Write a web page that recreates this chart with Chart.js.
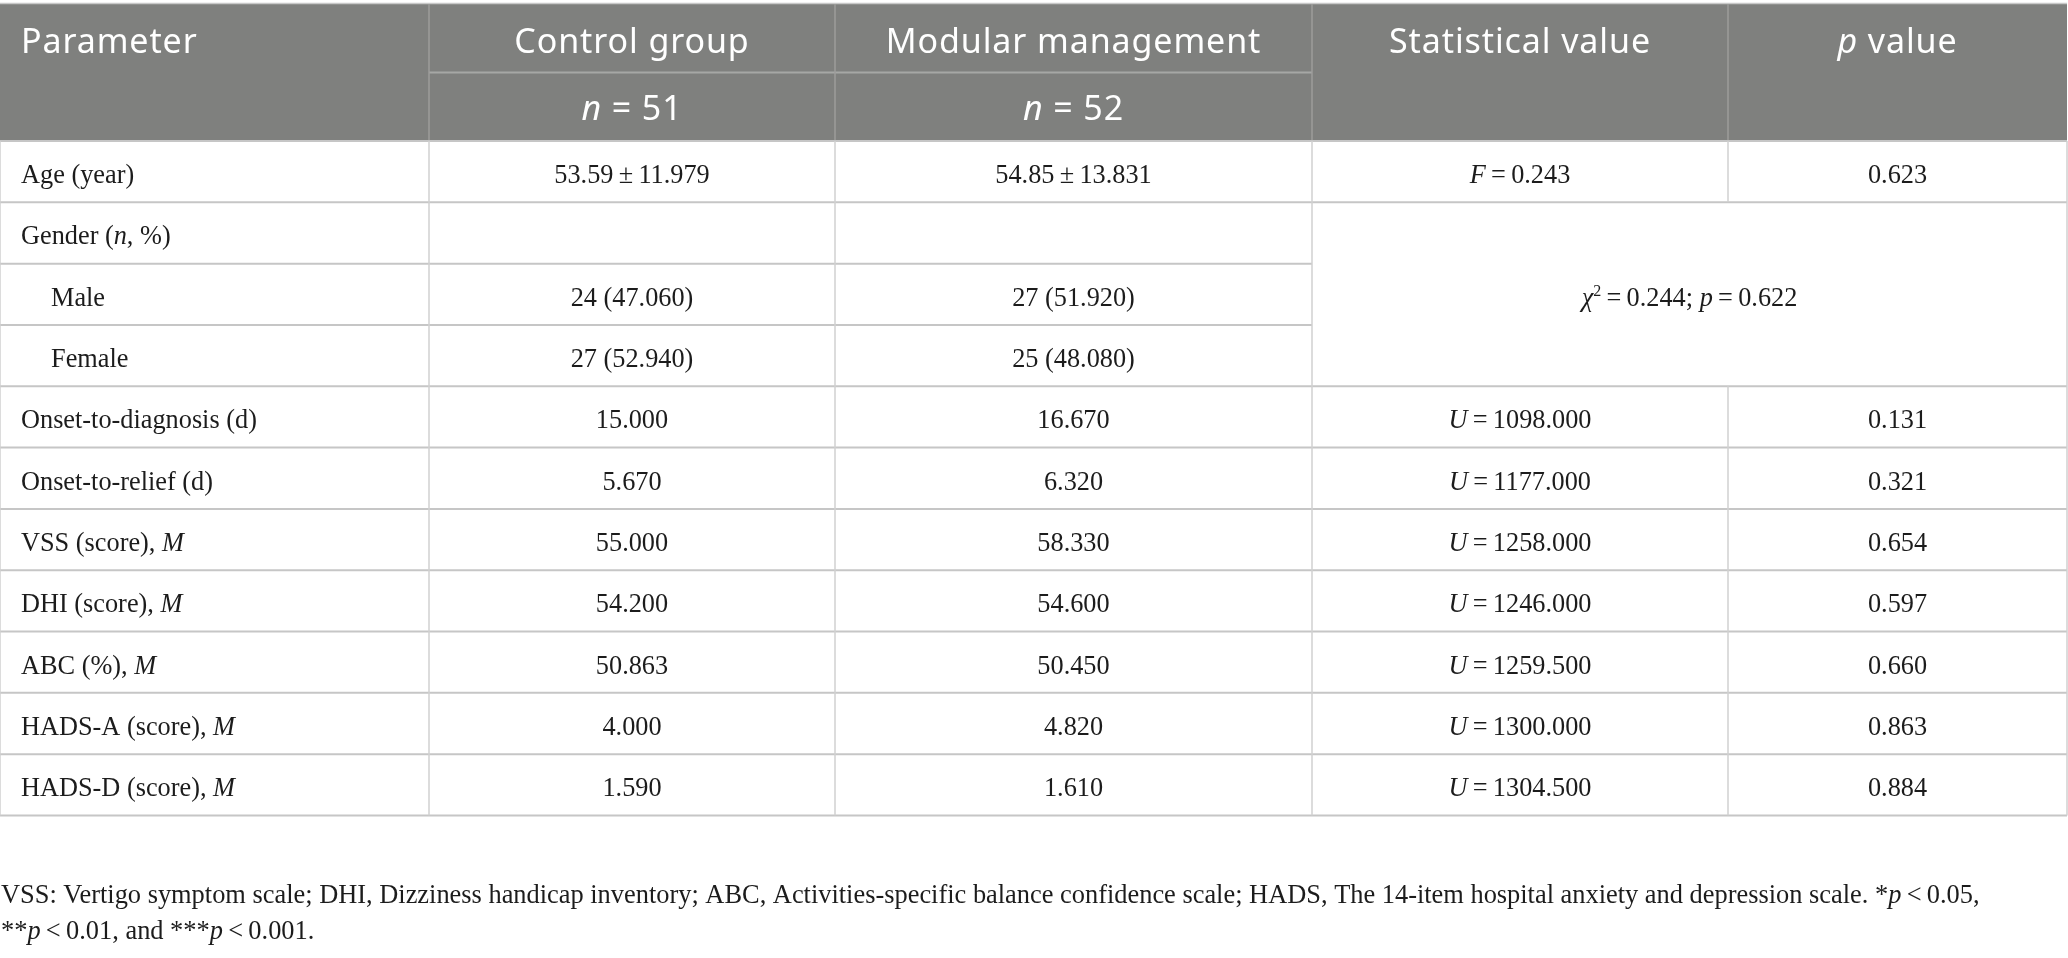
<!DOCTYPE html>
<html>
<head>
<meta charset="utf-8">
<script src="https://cdn.jsdelivr.net/npm/chart.js@4.4.0/dist/chart.umd.min.js"></script>
<style>
  html, body { margin: 0; padding: 0; background: #fff; overflow: hidden; }
  #wrap { position: relative; width: 2068px; height: 958px; }
</style>
</head>
<body>
<div id="wrap"><canvas id="tableCanvas"></canvas></div>
<script>
// table content ( _x_ = italic, ^x^ = superscript )
const columns = ['Parameter', 'Control group', 'Modular management', 'Statistical value', '_p_ value'];
const groupSizes = ['_n_ = 51', '_n_ = 52'];
const parameters = ['Age (year)', 'Gender (_n_, %)', 'Male', 'Female', 'Onset-to-diagnosis (d)',
  'Onset-to-relief (d)', 'VSS (score), _M_', 'DHI (score), _M_', 'ABC (%), _M_',
  'HADS-A (score), _M_', 'HADS-D (score), _M_'];
const subRows = [false, false, true, true, false, false, false, false, false, false, false];
const controlValues = ['53.59\u2009±\u200911.979', '', '24 (47.060)', '27 (52.940)', '15.000',
  '5.670', '55.000', '54.200', '50.863', '4.000', '1.590'];
const modularValues = ['54.85\u2009±\u200913.831', '', '27 (51.920)', '25 (48.080)', '16.670',
  '6.320', '58.330', '54.600', '50.450', '4.820', '1.610'];
const statValues = ['_F_\u2009=\u20090.243', null, null, null, '_U_\u2009=\u20091098.000',
  '_U_\u2009=\u20091177.000', '_U_\u2009=\u20091258.000', '_U_\u2009=\u20091246.000',
  '_U_\u2009=\u20091259.500', '_U_\u2009=\u20091300.000', '_U_\u2009=\u20091304.500'];
const pValues = ['0.623', null, null, null, '0.131', '0.321', '0.654', '0.597', '0.660', '0.863', '0.884'];
const genderTest = '_χ_^2^\u2009=\u20090.244; _p_\u2009=\u20090.622';
const genderRows = [1, 3];
const footnote = [
  'VSS: Vertigo symptom scale; DHI, Dizziness handicap inventory; ABC, Activities-specific balance confidence scale; HADS, The 14-item hospital anxiety and depression scale. *_p_\u2009<\u20090.05,',
  '**_p_\u2009<\u20090.01, and ***_p_\u2009<\u20090.001.'
];

// layout
const colEdges = [0, 429, 835, 1312, 1728, 2067];
const headTop = 4, headMid = 72.5, headBottom = 141, tableBottom = 815.5;
const serif = '"Liberation Serif", "Times New Roman", serif';
const sans = '"Noto Sans", "Open Sans", sans-serif';
const bodySize = 26.3, headSize = 34;

function parseRich(str) {
  const out = [];
  const parts = str.split(/(_[^_]*_|\^[^^]*\^)/);
  parts.forEach(p => {
    if (!p) return;
    if (p[0] === '_' && p.length > 1 && p[p.length - 1] === '_') out.push({ t: p.slice(1, -1), it: true });
    else if (p[0] === '^' && p.length > 1 && p[p.length - 1] === '^') out.push({ t: p.slice(1, -1), sup: true });
    else out.push({ t: p });
  });
  return out;
}

function drawRich(ctx, str, x, y, align, size, family, spacing) {
  const segs = parseRich(str);
  ctx.letterSpacing = spacing || '0px';
  let total = 0;
  segs.forEach(s => {
    const sz = s.sup ? Math.round(size * 0.62) : size;
    s.font = (s.it ? 'italic ' : '') + sz + 'px ' + family;
    ctx.font = s.font;
    s.w = ctx.measureText(s.t).width;
    total += s.w;
  });
  let cx = align === 'center' ? x - total / 2 : x;
  ctx.textAlign = 'left';
  ctx.textBaseline = 'alphabetic';
  segs.forEach(s => {
    ctx.font = s.font;
    ctx.fillText(s.t, cx, s.sup ? y - size * 0.38 : y);
    cx += s.w;
  });
  ctx.letterSpacing = '0px';
}

function hLine(ctx, x1, x2, y, color, w) {
  ctx.strokeStyle = color; ctx.lineWidth = w;
  ctx.beginPath(); ctx.moveTo(x1, y); ctx.lineTo(x2, y); ctx.stroke();
}
function vLine(ctx, x, y1, y2, color, w) {
  ctx.strokeStyle = color; ctx.lineWidth = w;
  ctx.beginPath(); ctx.moveTo(x, y1); ctx.lineTo(x, y2); ctx.stroke();
}

const tablePlugin = {
  id: 'tablePlugin',
  afterDraw(chart) {
    const ctx = chart.ctx;
    const xs = chart.scales.x, ys = chart.scales.y;
    const px = colEdges.map(v => xs.getPixelForValue(v));
    const band = ys.getPixelForValue(1) - ys.getPixelForValue(0);
    const rowTop = i => ys.getPixelForValue(i) - band / 2;
    const rowMid = i => ys.getPixelForValue(i);
    const colMid = c => (px[c] + px[c + 1]) / 2;
    ctx.save();

    // header
    ctx.fillStyle = '#7f807e';
    ctx.fillRect(px[0], headTop, px[5] - px[0], headBottom - headTop);
    hLine(ctx, px[0], px[5], headTop - 0.5, '#c8c8c8', 1.5);
    hLine(ctx, px[1], px[3], headMid, '#a6a7a5', 2);
    for (let c = 1; c < 5; c++) vLine(ctx, px[c], headTop, headBottom, '#9c9d9b', 1.5);
    ctx.fillStyle = '#ffffff';
    const sp = '0.9px';
    columns.forEach((t, c) => {
      if (c === 0) drawRich(ctx, t, px[0] + 21, 53, 'left', headSize, sans, sp);
      else drawRich(ctx, t, colMid(c), 53, 'center', headSize, sans, sp);
    });
    groupSizes.forEach((t, i) => drawRich(ctx, t, colMid(i + 1), 120, 'center', headSize, sans, sp));

    // body grid
    const n = parameters.length;
    for (let i = 0; i <= n; i++) {
      const y = rowTop(i);
      const inside = i > genderRows[0] && i <= genderRows[1];
      hLine(ctx, px[0], inside ? px[3] : px[5], y, '#c6c6c6', 2);
    }
    for (let c = 0; c <= 5; c++) {
      if (c === 4) {
        vLine(ctx, px[c], rowTop(0), rowTop(genderRows[0]), '#d0d0d0', 1.5);
        vLine(ctx, px[c], rowTop(genderRows[1] + 1), rowTop(n), '#d0d0d0', 1.5);
      } else {
        vLine(ctx, px[c], headBottom, rowTop(n), '#d0d0d0', 1.5);
      }
    }

    // body text
    ctx.fillStyle = '#1c1c1c';
    const off = 11.5;
    parameters.forEach((t, i) => {
      const y = rowMid(i) + off;
      drawRich(ctx, t, px[0] + (subRows[i] ? 51 : 21), y, 'left', bodySize, serif);
      if (controlValues[i]) drawRich(ctx, controlValues[i], colMid(1), y, 'center', bodySize, serif);
      if (modularValues[i]) drawRich(ctx, modularValues[i], colMid(2), y, 'center', bodySize, serif);
      if (statValues[i]) drawRich(ctx, statValues[i], colMid(3), y, 'center', bodySize, serif);
      if (pValues[i]) drawRich(ctx, pValues[i], colMid(4), y, 'center', bodySize, serif);
    });
    const gy = (rowTop(genderRows[0]) + rowTop(genderRows[1] + 1)) / 2 + off;
    drawRich(ctx, genderTest, (px[3] + px[5]) / 2, gy, 'center', bodySize, serif);

    // footnote
    drawRich(ctx, footnote[0], 1, 903, 'left', 26.4, serif);
    drawRich(ctx, footnote[1], 1, 939, 'left', 26.4, serif);
    ctx.restore();
  }
};

const ctx = document.getElementById('tableCanvas').getContext('2d');
const chart = new Chart(ctx, {
  type: 'bar',
  data: {
    labels: parameters,
    datasets: [{ data: parameters.map(() => 0), backgroundColor: 'rgba(0,0,0,0)' }]
  },
  options: {
    indexAxis: 'y',
    responsive: true,
    maintainAspectRatio: false,
    animation: false,
    events: [],
    layout: { padding: { top: headBottom, bottom: 958 - tableBottom, left: 0, right: 0 } },
    scales: {
      x: { type: 'linear', min: 0, max: 2068, display: false },
      y: { type: 'category', offset: true, display: false }
    },
    plugins: { legend: { display: false }, tooltip: { enabled: false } }
  },
  plugins: [tablePlugin]
});
</script>
</body>
</html>
